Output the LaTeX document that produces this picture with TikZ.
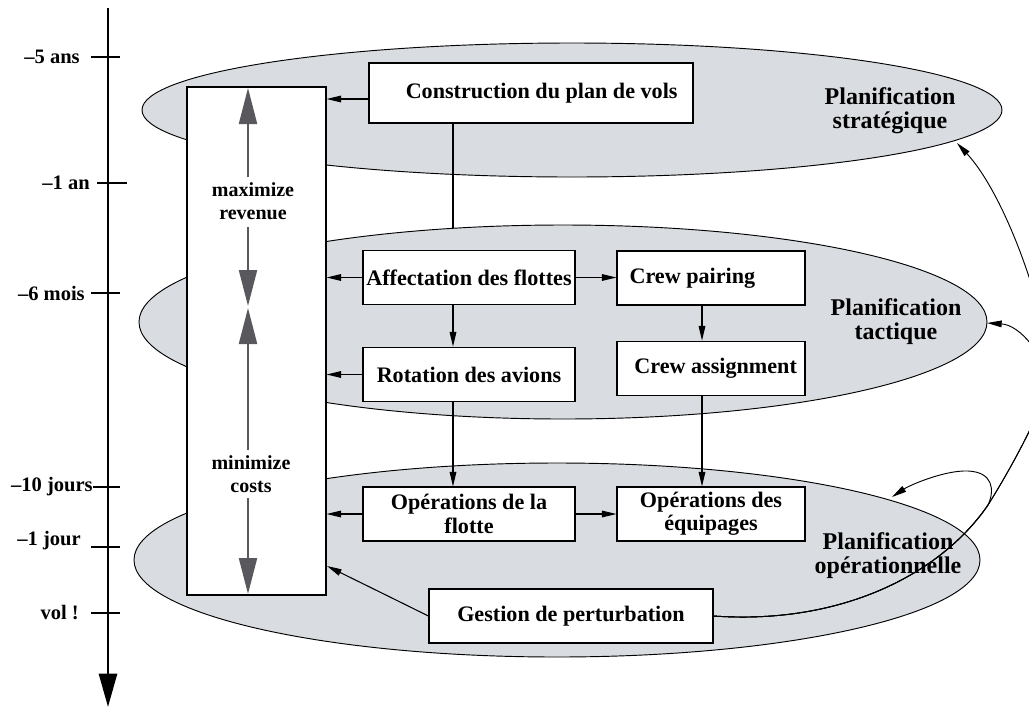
\documentclass[tikz,border=0pt]{standalone}
\usepackage{fontspec}
\setmainfont{Liberation Serif}
\usetikzlibrary{arrows.meta,shapes.geometric}
\definecolor{ellfill}{HTML}{D9DCE0}
\definecolor{objgray}{HTML}{58585D}
\begin{document}
\begin{tikzpicture}[x=0.75pt,y=-0.75pt,
  box/.style={draw,fill=white,line width=0.8pt,inner sep=0pt,align=center,font=\bfseries\fontsize{16.6}{17.5}\selectfont},
  ell/.style={ellipse,draw,fill=ellfill,line width=0.7pt,inner sep=0pt},
  plan/.style={align=center,font=\bfseries\fontsize{18}{18}\selectfont,inner sep=0pt},
  tlabel/.style={anchor=east,inner sep=0pt,font=\bfseries\fontsize{15.4}{16}\selectfont},
  objtxt/.style={align=center,inner sep=1pt,font=\bfseries\fontsize{15}{17}\selectfont},
  arr/.style={line width=0.8pt,-{Triangle[length=11pt,width=5pt]}},
  conn/.style={line width=0.8pt},
  garr/.style={line width=1.6pt,draw=objgray,-{Triangle[length=27pt,width=13.5pt]}},
  axisline/.style={line width=2pt,-{Triangle[length=25pt,width=13.5pt]}},
  tickline/.style={line width=0.8pt},
  curvearr/.style={line width=0.7pt,-{Triangle[length=11pt,width=5pt]}}
]
\useasboundingbox (0,0) rectangle (1029,708);

% planning levels
\node[ell,minimum width=645pt,minimum height=100.5pt] (E1) at (572,110) {};
\node[ell,minimum width=636pt,minimum height=145.5pt] (E2) at (563,322) {};
\node[ell,minimum width=634.5pt,minimum height=145.5pt] (E3) at (557,560) {};

% objective box
\node[draw,fill=white,line width=0.8pt,minimum width=104.25pt,minimum height=381pt,inner sep=0pt] (OBJ) at (256.5,341) {};

% process boxes
\node[box,minimum width=243pt,minimum height=45pt] (CONS) at (531,93) {\hspace*{16pt}Construction du plan de vols};
\node[box,minimum width=159pt,minimum height=40pt] (AFF) at (469,277.5) {Affectation des flottes};
\node[box,minimum width=141pt,minimum height=40.5pt] (CRP) at (711,278) {Crew pairing\hspace*{28pt}};
\node[box,minimum width=159pt,minimum height=41pt] (ROT) at (469,374.5) {Rotation des avions};
\node[box,minimum width=141pt,minimum height=41pt] (CRA) at (711,368.5) {\hspace*{7pt}Crew assignment};
\node[box,minimum width=159pt,minimum height=40.5pt] (FLO) at (469,514) {Opérations de la\\flotte};
\node[box,minimum width=141pt,minimum height=40.5pt] (EQU) at (711,514) {Opérations des\\équipages};
\node[box,minimum width=213pt,minimum height=40.5pt] (GES) at (571,616) {Gestion de perturbation};

% level labels
\node[plan] (PS) at (890,111) {Planification\\stratégique};
\node[plan] (PT) at (896,322) {Planification\\tactique};
\node[plan] (PO) at (888,556) {Planification\\opérationnelle};

% objectives
\node[objtxt] (MAX) at (253,201) {maximize\\revenue};
\node[objtxt] (MIN) at (251,474) {minimize\\costs};
\coordinate (g1) at (248,177); \coordinate (g1e) at (248,88);
\coordinate (g2) at (248,227); \coordinate (gm1) at (248,306);
\coordinate (g3) at (248,450); \coordinate (gm2) at (248,308);
\coordinate (g4) at (248,498); \coordinate (g4e) at (248,594);
\draw[garr] (g1) -- (g1e);
\draw[garr] (g2) -- (gm1);
\draw[garr] (g3) -- (gm2);
\draw[garr] (g4) -- (g4e);

% time axis
\coordinate (ax0) at (108,8); \coordinate (ax1) at (108,707);
\draw[axisline] (ax0) -- (ax1);
\foreach \y/\a/\b in {57/91/120, 183/97/127, 293/91/120, 487/93/120, 547/91/120, 613/91/120}
  \draw[tickline] (\a,\y) -- (\b,\y);
\node[tlabel] (L1) at (80,57) {–5 ans};
\node[tlabel] (L2) at (90,183) {–1 an};
\node[tlabel] (L3) at (85,293) {–6 mois};
\node[tlabel] (L4) at (93,487) {–10 jours};
\node[tlabel] (L5) at (81,541) {–1 jour};
\node[tlabel] (L6) at (79,613) {vol !};

% connectors
\coordinate (c1) at ([yshift=-4.5pt]CONS.west);
\draw[arr] (c1) -- (c1 -| OBJ.east);
\draw[arr] (AFF.west) -- (AFF.west -| OBJ.east);
\draw[arr] (ROT.west) -- (ROT.west -| OBJ.east);
\draw[arr] (FLO.west) -- (FLO.west -| OBJ.east);
\draw[arr] (AFF.east) -- (AFF.east -| CRP.west);
\draw[arr] (FLO.east) -- (FLO.east -| EQU.west);
\coordinate (v1) at ([xshift=-12pt]AFF.south);
\coordinate (v0) at (CONS.south -| v1);
\coordinate (v0e) at (453,228);
\draw[conn] (v0) -- (v0e);
\draw[arr] (v1) -- (v1 |- ROT.north);
\coordinate (v2) at ([xshift=-12pt]ROT.south);
\draw[arr] (v2) -- (v2 |- FLO.north);
\coordinate (w1) at ([xshift=-6.75pt]CRP.south);
\draw[arr] (w1) -- (w1 |- CRA.north);
\coordinate (w2) at ([xshift=-6.75pt]CRA.south);
\draw[arr] (w2) -- (w2 |- EQU.north);
\coordinate (gx) at (327,566);
\draw[arr] (GES.west) -- (gx);

% feedback curves from disruption management
\coordinate (k1) at (988,505);
\coordinate (k2) at (1048,385);
\coordinate (ts) at (957,143);
\coordinate (tt) at (987,323);
\coordinate (tgo) at (892,497);
\draw[curvearr] (GES.east) .. controls (840,625) and (940,575) .. (k1) .. controls (1010,470) and (1040,415) .. (k2) .. controls (1056,340) and (1010,200) .. (ts);
\draw[curvearr] (GES.east) .. controls (840,625) and (940,575) .. (k1) .. controls (1010,470) and (1040,415) .. (k2) .. controls (1045,355) and (1020,325) .. (tt);
\draw[curvearr] (GES.east) .. controls (840,625) and (940,575) .. (k1) .. controls (995,490) and (993,472) .. (968,471) .. controls (945,470) and (910,485) .. (tgo);
\end{tikzpicture}
\end{document}
